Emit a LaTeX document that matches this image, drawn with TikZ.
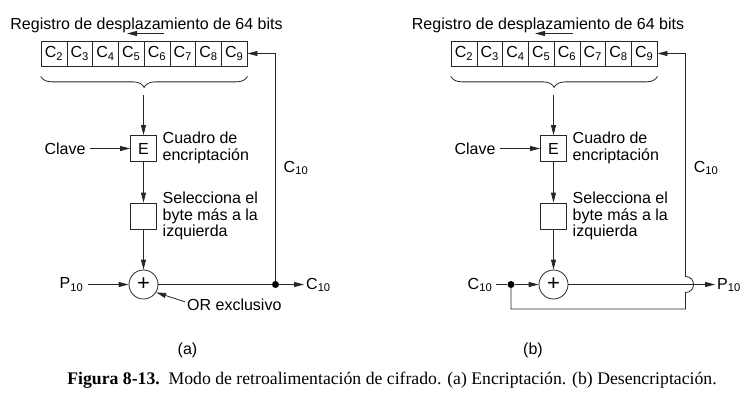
\documentclass[tikz,border=0pt]{standalone}
\usepackage{fontspec}
\setmainfont{Liberation Sans}
\newfontfamily\capfont{Liberation Serif}
\usetikzlibrary{arrows.meta,decorations.pathreplacing}
\begin{document}
\begin{tikzpicture}[x=1pt,y=-1pt,
  font=\fontsize{16}{16.8}\selectfont,
  line/.style={line width=0.8pt, draw=black!85},
  arr/.style={line, -{Triangle[length=10pt,width=5pt]}},
  cell/.style={draw=black!85, line width=0.7pt, minimum width=25.75pt, minimum height=25pt, inner sep=0pt},
  sbox/.style={draw=black!85, line width=0.8pt, minimum size=26pt, inner sep=0pt},
  xorc/.style={draw=black!85, circle, line width=0.8pt, minimum size=29pt, inner sep=0pt},
  lbl/.style={inner sep=0pt},
  desc/.style={align=left, anchor=west, inner sep=0pt},
  dotc/.style={circle, fill=black, minimum size=7pt, inner sep=0pt},
]
\useasboundingbox (0,0) rectangle (752,402);

\foreach \p/\dx in {a/0,b/410}{
\begin{scope}[xshift=\dx]
  \foreach \i [count=\k] in {2,...,9}
    \node[cell] (\p-c\i) at ({54+(\k-1)*25.75},53.5) {C\textsubscript{\i}};
  \draw[line, decorate, decoration={brace, mirror, amplitude=11pt}]
    ([yshift=-10pt]\p-c2.south west) -- ([yshift=-10pt]\p-c9.south east);
  \coordinate (\p-tip) at (143.5,95);
  \node[sbox] (\p-E) at (143.5,148.5) {E};
  \draw[arr] (\p-tip) -- (\p-E);
  \node[lbl] (\p-clave) at (65,148.5) {Clave};
  \draw[arr, shorten <=4pt] (\p-clave.east) -- (\p-E.west);
  \node[desc] (\p-cuadro) at (162.5,147.5) {\baselineskip=16pt Cuadro de\\encriptación};
  \node[sbox] (\p-sel) at (143.5,216) {};
  \draw[arr] (\p-E) -- (\p-sel);
  \node[desc] (\p-selt) at (162.5,216) {Selecciona el\\byte más a la\\izquierda};
  \node[xorc] (\p-x) at (143.5,284.5) {\fontsize{22}{22}\selectfont +};
  \draw[arr] (\p-sel) -- (\p-x);
  \node[lbl] (\p-c10lbl) at (296,168) {C\textsubscript{10}};
\end{scope}
}

% titles
\node[lbl] (a-title) at (146.5,25) {Registro de desplazamiento de 64 bits};
\node[lbl] (b-title) at (548,25) {Registro de desplazamiento de 64 bits};
\coordinate (a-sa1) at (164,33.5); \coordinate (a-sa2) at (127,33.5);
\coordinate (b-sa1) at (573,33.5); \coordinate (b-sa2) at (535,33.5);
\draw[arr] (a-sa1) -- (a-sa2);
\draw[arr] (b-sa1) -- (b-sa2);

% left specifics
\node[lbl] (a-p10) at (71.5,284.5) {P\textsubscript{10}};
\draw[arr, shorten <=4pt] (a-p10.east |- a-x) -- (a-x.west);
\node[dotc] (a-dot) at (275.5,284.5) {};
\draw[line] (a-x.east) -- (a-dot);
\node[lbl, anchor=west] (a-c10out) at (306,285) {C\textsubscript{10}};
\draw[arr, shorten >=2pt] (a-dot) -- (a-c10out.west |- a-dot);
\draw[arr] (a-dot) |- (a-c9.east);
\node[lbl, anchor=west] (a-orx) at (187,304.5) {OR exclusivo};
\draw[arr, shorten <=2pt] ([yshift=2pt]a-orx.west) -- (a-x.-32);

% right specifics
\node[lbl] (b-c10in) at (480,285) {C\textsubscript{10}};
\node[dotc] (b-dot) at (511,284.5) {};
\draw[line, shorten <=4pt] (b-c10in.east |- b-dot) -- (b-dot);
\draw[arr] (b-dot) -- (b-x.west);
\node[lbl, anchor=west] (b-p10) at (717,285) {P\textsubscript{10}};
\draw[arr, shorten >=2pt] (b-x.east) -- (b-p10.west |- b-x);
\coordinate (b-bot) at (685.5,309);
\coordinate (b-hopb) at (685.5,292.5);
\coordinate (b-hopt) at (685.5,276.5);
\draw[line] (b-dot) |- (b-bot) -- (b-hopb) .. controls +(10.7,0) and +(10.7,0) .. (b-hopt);
\draw[arr] (b-hopt) |- (b-c9.east);

% labels
\node[lbl] (lab-a) at (187.5,350) {(a)};
\node[lbl] (lab-b) at (533,350) {(b)};
\node[lbl] (cap) at (392,380) {\capfont\fontsize{17.7}{20}\selectfont\textbf{Figura 8-13.}\ \ Modo de retroalimentación de cifrado. (a) Encriptación. (b) Desencriptación.};
\end{tikzpicture}
\end{document}
